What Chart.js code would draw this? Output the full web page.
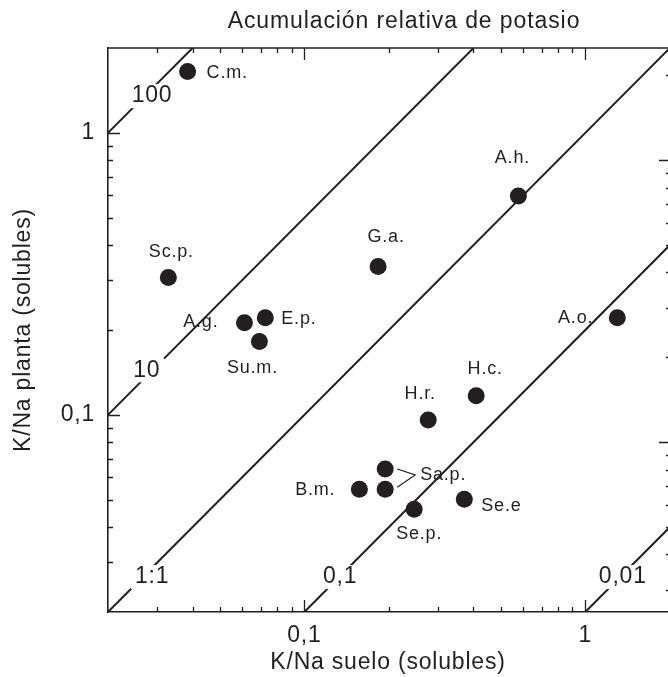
<!DOCTYPE html>
<html>
<head>
<meta charset="utf-8">
<style>
  html, body { margin: 0; padding: 0; background: #fff; }
  canvas { display: block; }
</style>
</head>
<body>
<canvas id="chart" width="668" height="677"></canvas>

<script src="https://cdn.jsdelivr.net/npm/chart.js"></script>
<script>
// datos
const species = ['C.m.', 'Sc.p.', 'A.g.', 'E.p.', 'Su.m.', 'G.a.', 'A.h.', 'A.o.', 'H.c.', 'H.r.', 'Sa.p.', 'Sa.p.', 'B.m.', 'Se.p.', 'Se.e'];
const soilKNa  = [0.0384, 0.0328, 0.0612, 0.0726, 0.0692, 0.183, 0.578, 1.30, 0.409, 0.276, 0.194, 0.194, 0.157, 0.246, 0.371];
const plantKNa = [1.65, 0.307, 0.212, 0.221, 0.182, 0.336, 0.597, 0.221, 0.117, 0.096, 0.0643, 0.0545, 0.0545, 0.0463, 0.0502];

// rectas de acumulación relativa (extremos en unidades de los ejes)
const ratioNames = ['100', '10', '1:1', '0,1', '0,01'];
const ratioStart = [[0.02, 1], [0.02, 0.1], [0.02, 0.02], [0.1, 0.02], [1, 0.02]];
const ratioEnd   = [[0.04, 2], [0.4, 2], [2, 2], [2, 0.4], [2, 0.04]];
const ratioLabelAt = [[0.0287, 1.35], [0.0275, 0.144], [0.0287, 0.0266], [0.134, 0.0266], [1.36, 0.0266]];

const tickValues = [0.1, 1];
const tickLabels = ['0,1', '1'];

const chartTitle = 'Acumulación relativa de potasio';

// colocación de etiquetas de cada punto: [dx, dy, alineación]
const labelPlace = [
  [19, 1, 'left'], [3, -25, 'center'], [-26, -1, 'right'], [16, 1, 'left'], [-7, 26, 'center'],
  [8, -29, 'center'], [-6, -38, 'center'], [-24, 0, 'right'], [9, -27, 'center'], [-8, -26, 'center'],
  [35, 6, 'left'], null, [-24, 1, 'right'], [5, 25, 'center'], [17, 7, 'left']
];

const ink = '#231f20';
const fam = "'Liberation Sans', Helvetica, Arial, sans-serif";

const points = soilKNa.map((x, i) => ({ x: x, y: plantKNa[i] }));

const lineSets = ratioNames.map((n, i) => ({
  type: 'line',
  label: n,
  data: [{ x: ratioStart[i][0], y: ratioStart[i][1] }, { x: ratioEnd[i][0], y: ratioEnd[i][1] }],
  borderColor: ink,
  borderWidth: 2,
  pointRadius: 0,
  fill: false
}));

function logMarks(scale) {
  const out = [];
  for (let e = -3; e <= 1; e++) {
    for (let m = 1; m <= 9; m++) {
      const v = m * Math.pow(10, e);
      if (v > scale.min * 1.001 && v < scale.max * 0.999) out.push({ v: v, major: m === 1 });
    }
  }
  return out;
}

const spacing = {
  id: 'spacing',
  beforeDraw(chart) { chart.ctx.letterSpacing = '0.8px'; },
  afterDraw(chart) { chart.ctx.letterSpacing = '0px'; }
};

// título, centrado algo a la derecha del área de dibujo como en el original
const titleText = {
  id: 'titleText',
  afterDraw(chart) {
    const { ctx, chartArea: a } = chart;
    ctx.save();
    ctx.letterSpacing = '0.9px';
    ctx.font = '23px ' + fam;
    ctx.fillStyle = ink;
    ctx.textAlign = 'center';
    ctx.textBaseline = 'middle';
    ctx.fillText(chartTitle, (a.left + a.right) / 2 + 16, a.top - 26);
    ctx.restore();
  }
};

// marcas de los ejes hacia dentro y borde superior
const frameTicks = {
  id: 'frameTicks',
  afterDatasetsDraw(chart) {
    const { ctx, chartArea: a, scales } = chart;
    ctx.save();
    ctx.strokeStyle = ink;
    ctx.lineWidth = 1.3;
    ctx.beginPath();
    logMarks(scales.x).forEach(t => {
      const px = Math.round(scales.x.getPixelForValue(t.v)) + 0.5;
      const len = t.major ? 12 : 5;
      ctx.moveTo(px, a.bottom); ctx.lineTo(px, a.bottom - len);
      ctx.moveTo(px, a.top); ctx.lineTo(px, a.top + len);
    });
    logMarks(scales.y).forEach(t => {
      const py = Math.round(scales.y.getPixelForValue(t.v)) + 0.5;
      const len = t.major ? 12 : 5;
      ctx.moveTo(a.left, py); ctx.lineTo(a.left + len, py);
    });
    logMarks(scales.y2).forEach(t => {
      const py = Math.round(scales.y2.getPixelForValue(t.v)) + 0.5;
      const len = t.major ? 12 : 5;
      ctx.moveTo(a.right + 3, py); ctx.lineTo(a.right + 3 - len, py);
    });
    ctx.stroke();
    ctx.lineWidth = 1.6;
    ctx.beginPath();
    ctx.moveTo(a.left, a.top); ctx.lineTo(a.right, a.top);
    ctx.stroke();
    ctx.restore();
  }
};

// rótulos de las rectas, con fondo blanco que corta la línea
const ratioText = {
  id: 'ratioText',
  beforeDatasetDraw(chart, args) {
    if (args.index !== 0) return;
    const { ctx, scales } = chart;
    ctx.save();
    ctx.font = '23px ' + fam;
    ctx.textAlign = 'center';
    ctx.textBaseline = 'middle';
    ratioNames.forEach((n, i) => {
      const px = scales.x.getPixelForValue(ratioLabelAt[i][0]);
      const py = scales.y.getPixelForValue(ratioLabelAt[i][1]);
      const w = ctx.measureText(n).width + 8;
      ctx.fillStyle = '#fff';
      ctx.fillRect(px - w / 2, py - 12, w, 24);
      ctx.fillStyle = ink;
      ctx.fillText(n, px, py);
    });
    ctx.restore();
  }
};

// nombres de las especies
const pointText = {
  id: 'pointText',
  afterDatasetsDraw(chart) {
    const { ctx } = chart;
    const meta = chart.getDatasetMeta(0);
    ctx.save();
    ctx.font = '18px ' + fam;
    ctx.fillStyle = ink;
    ctx.textBaseline = 'middle';
    species.forEach((n, i) => {
      const p = labelPlace[i];
      if (!p) return;
      const el = meta.data[i];
      ctx.textAlign = p[2];
      ctx.fillText(n, el.x + p[0], el.y + p[1]);
    });
    // llave de los dos puntos de Sa.p.
    const a = meta.data[10], b = meta.data[11];
    ctx.strokeStyle = ink;
    ctx.lineWidth = 1.2;
    ctx.beginPath();
    ctx.moveTo(a.x + 12, a.y);
    ctx.lineTo(a.x + 30, a.y + 6);
    ctx.lineTo(b.x + 12, b.y - 2);
    ctx.stroke();
    ctx.restore();
  }
};

new Chart(document.getElementById('chart'), {
  type: 'scatter',
  data: {
    datasets: [{
      label: 'Especies',
      data: points,
      backgroundColor: ink,
      borderColor: ink,
      pointRadius: 8.5,
      pointHoverRadius: 8.5,
      borderWidth: 0
    }].concat(lineSets)
  },
  options: {
    responsive: false,
    animation: false,
    layout: { padding: { top: 48, left: 0, right: 0, bottom: 0 }, autoPadding: false },
    plugins: {
      legend: { display: false },
      tooltip: { enabled: false },
      title: { display: false }
    },
    scales: {
      x: {
        type: 'logarithmic',
        position: 'bottom',
        min: 0.02,
        max: 1.97,
        afterFit: s => { s.height = 65; },
        afterBuildTicks: s => { s.ticks = tickValues.map(v => ({ value: v })); },
        grid: { display: false, drawTicks: false },
        border: { display: true, color: ink, width: 1.6 },
        ticks: {
          autoSkip: false,
          maxRotation: 0,
          padding: 10,
          color: ink,
          font: { family: fam, size: 23 },
          callback: (v, i) => tickLabels[i]
        },
        title: {
          display: true,
          text: 'K/Na suelo (solubles)',
          color: ink,
          font: { family: fam, size: 23 },
          padding: { top: 0, bottom: 1 }
        }
      },
      y: {
        type: 'logarithmic',
        position: 'left',
        min: 0.02,
        max: 2,
        afterFit: s => { s.width = 108; },
        afterBuildTicks: s => { s.ticks = tickValues.map(v => ({ value: v })); },
        grid: { display: false, drawTicks: false },
        border: { display: true, color: ink, width: 1.6 },
        ticks: {
          autoSkip: false,
          padding: 13,
          color: ink,
          font: { family: fam, size: 23 },
          callback: (v, i) => tickLabels[i]
        },
        title: {
          display: true,
          text: 'K/Na planta (solubles)',
          color: ink,
          font: { family: fam, size: 23 },
          padding: { top: 10, bottom: 0 }
        }
      },
      y2: {
        type: 'logarithmic',
        position: 'right',
        min: 0.025,
        max: 2.5,
        display: false
      }
    }
  },
  plugins: [spacing, frameTicks, ratioText, pointText, titleText]
});
</script>
</body>
</html>
